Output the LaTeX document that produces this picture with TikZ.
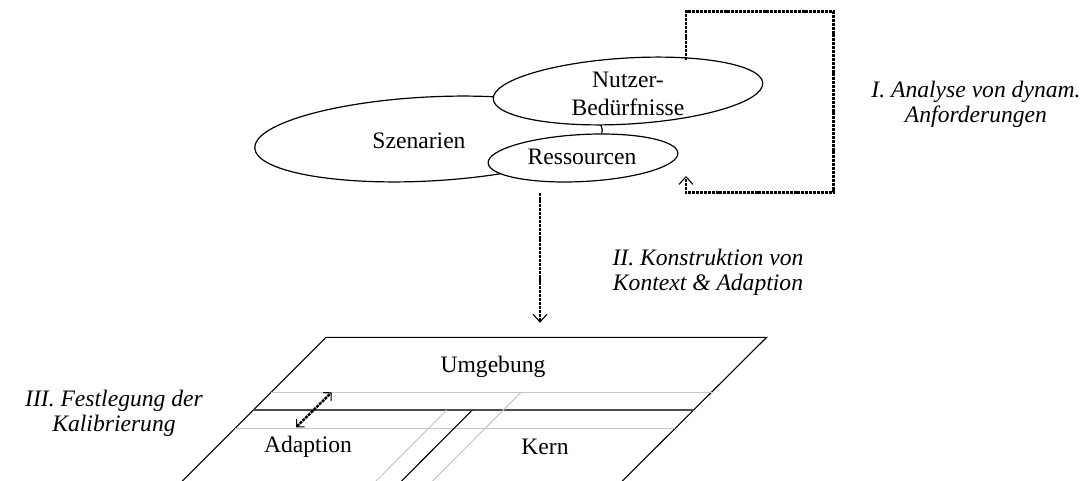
\documentclass[tikz,border=0pt]{standalone}
\usepackage{fontspec}
\setmainfont{Liberation Serif}
\usepackage{tikz}
\usetikzlibrary{arrows.meta, shapes.geometric}

\tikzset{
  blob/.style={ellipse, draw, fill=white, line width=0.6pt, inner sep=0pt},
  flow/.style={line width=1.2pt, dash pattern=on 1.5pt off 0.45pt,
    -{Straight Barb[length=3.8pt, width=7pt, line width=0.55pt]}},
  phase/.style={align=center, font=\fontsize{11.8}{12.5}\selectfont\itshape},
  rim/.style={line width=0.55pt},
  guide/.style={line width=0.5pt, gray!45},
  seam/.style={line width=1.1pt, black!70},
}

\begin{document}
\begin{tikzpicture}[x=0.5pt, y=-0.5pt, font=\fontsize{11.8}{12.5}\selectfont]
    \useasboundingbox (0,0) rectangle (1083,481);

    % Requirement sources
    \node[blob, rotate=3, minimum width=174pt, minimum height=42pt] (szen) at (428.5,139) {};
    \node[blob, rotate=3.4, minimum width=135pt, minimum height=33pt] (nutzer) at (628,91) {};
    \node[blob, rotate=3, minimum width=95pt, minimum height=23.5pt] (ress) at (583,158) {};
    \node (szentext) at (419,141) {Szenarien};
    \node[align=center, font=\fontsize{11.8}{14}\selectfont] (nutzertext) at (628,94) {Nutzer-\\Bedürfnisse};
    \node (resstext) at (582,157) {Ressourcen};

    % Feedback loop
    \coordinate (loopin) at (686,60);
    \coordinate (loopne) at (833.3,11.7);
    \coordinate (loopse) at (833.3,192.7);
    \coordinate (loopout) at (686,176);
    \draw[flow] (loopin) |- (loopne) -- (loopse) -| (loopout);

    % Construction step
    \coordinate (buildtop) at (540,192.7);
    \coordinate (buildtip) at (540,322.7);
    \draw[flow] (buildtop) -- (buildtip);

    % Phase labels
    \node[phase] (phaseI) at (976,104) {I. Analyse von dynam.\\Anforderungen};
    \node[phase] (phaseII) at (708,272) {II. Konstruktion von\\Kontext \& Adaption};
    \node[phase] (phaseIII) at (114,413) {III. Festlegung der\\Kalibrierung};

    % Plane
    \coordinate (tl) at (326,337.3);
    \coordinate (tr) at (766.7,337.3);
    \coordinate (bl) at (182,481.3);
    \coordinate (br) at (622,481.3);
    \draw[rim] (bl) -- (tl) -- (tr) -- (br);

    % Layer borders
    \draw[guide] (271,392.3) -- (711.7,392.3);
    \draw[seam] (253,410) -- (694,410);
    \draw[guide] (235,428.3) -- (675.4,428.3);
    \draw[guide] (446.7,410) -- (375.7,481.3);
    \draw[rim] (472.3,410) -- (401.3,481.3);
    \draw[guide] (521,392.3) -- (432.3,481.3);

    \node (umg) at (493,367) {Umgebung};
    \node (adapt) at (308,447) {Adaption};
    \node (kern) at (545,447) {Kern};

    % Calibration range
    \coordinate (callow) at (296,427.3);
    \coordinate (calhigh) at (331.7,392.3);
    \draw[flow, {Straight Barb[length=2.8pt, width=5.7pt, line width=0.55pt]}-{Straight Barb[length=2.8pt, width=5.7pt, line width=0.55pt]}] (callow) -- (calhigh);

\end{tikzpicture}
\end{document}
